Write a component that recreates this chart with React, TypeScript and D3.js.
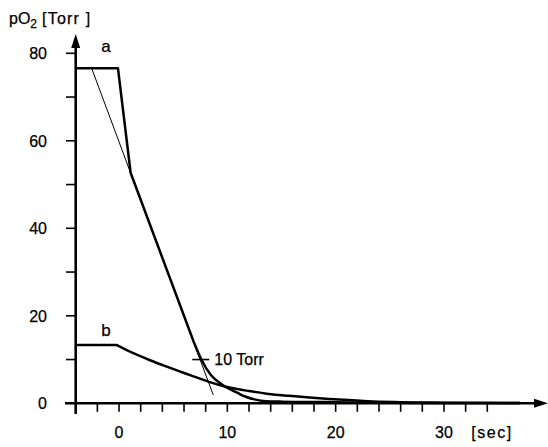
import React from "react";
import * as d3 from "d3";

// Time axis (sec) and pO2 axis (Torr)
const xTicks = d3.range(-2, 35, 2);
const xLabels = [0, 10, 20, 30];
const yTicks = d3.range(0, 81, 10);
const yLabels = [0, 20, 40, 60, 80];

// Curve a: plateau, fast drop, then exponential-like tail
const aStraight: [number, number][] = [
  [-4, 76.6],
  [-0.1, 76.6],
  [1.07, 52.7],
  [6.9, 14.0],
];
const aTail: [number, number][] = [
  [6.9, 14.0],
  [7.6, 10.0],
  [8.5, 6.4],
  [9.5, 4.3],
  [10.2, 3.3],
  [11.0, 2.3],
  [11.7, 1.5],
  [12.5, 0.9],
  [13.3, 0.55],
  [15.0, 0.38],
  [19.0, 0.27],
  [25.0, 0.12],
  [37.0, 0.05],
];

// Curve b: lower plateau and slow decay
const bStraight: [number, number][] = [
  [-4, 13.3],
  [-0.2, 13.3],
  [1.0, 11.8],
];
const bTail: [number, number][] = [
  [1.0, 11.8],
  [2.8, 9.9],
  [4.6, 8.2],
  [6.5, 6.5],
  [8.3, 4.9],
  [9.85, 3.8],
  [12.0, 2.8],
  [13.8, 2.15],
  [15.7, 1.7],
  [17.6, 1.3],
  [19.4, 1.0],
  [21.2, 0.75],
  [23.0, 0.45],
  [26.0, 0.25],
  [30.0, 0.15],
  [37.0, 0.05],
];

// Tangent through the linear part of curve a
const tangent: [number, number][] = [
  [-2.53, 76.6],
  [8.7, 1.9],
];

// 10 Torr marker on curve a
const torrMark = { t: 7.55, value: 10, label: "10 Torr" };

const curveLabels = [
  { text: "a", t: -1.2, value: 80.3 },
  { text: "b", t: -1.2, value: 15.3 },
];

const W = 548;
const H = 447;

export default function App() {
  const x = d3.scaleLinear().domain([-4, 34]).range([75.7, 487.3]);
  const y = d3.scaleLinear().domain([0, 80]).range([403.3, 53.3]);

  const linear = d3
    .line<[number, number]>()
    .x((d) => x(d[0]))
    .y((d) => y(d[1]))
    .curve(d3.curveLinear);
  const smooth = d3
    .line<[number, number]>()
    .x((d) => x(d[0]))
    .y((d) => y(d[1]))
    .curve(d3.curveMonotoneX);

  const axisY0 = y(0);
  const axisX0 = x(-4);
  const font = "'Liberation Sans', Arial, Helvetica, sans-serif";

  return (
    <svg
      width={W}
      height={H}
      viewBox={`0 0 ${W} ${H}`}
      style={{ position: "absolute", left: 0, top: 0, background: "#fff" }}
      fontFamily={font}
    >
      {/* axes */}
      <g stroke="#000" fill="none" strokeLinecap="butt">
        <line x1={axisX0} x2={axisX0} y1={414} y2={44} strokeWidth={2.6} />
        <line x1={65} x2={538} y1={axisY0} y2={axisY0} strokeWidth={2.6} />
        {yTicks.map((v) => (
          <line key={`yt${v}`} x1={66} x2={axisX0} y1={y(v)} y2={y(v)} strokeWidth={1.6} />
        ))}
        {xTicks.map((t) => (
          <line key={`xt${t}`} x1={x(t)} x2={x(t)} y1={axisY0} y2={axisY0 + 8.5} strokeWidth={1.6} />
        ))}
      </g>
      {/* arrow heads */}
      <path
        d={`M${axisX0},34 L${axisX0 - 4.5},48 L${axisX0 + 4.5},48 Z`}
        fill="#000"
      />
      <path
        d={`M548,${axisY0} L534,${axisY0 - 4.5} L534,${axisY0 + 4.5} Z`}
        fill="#000"
      />

      {/* tick labels */}
      <g fontSize={16} fill="#000" stroke="#000" strokeWidth={0.25}>
        {yLabels.map((v) => (
          <text key={`yl${v}`} x={47} y={y(v) + 5.8} textAnchor="end">
            {v}
          </text>
        ))}
        {xLabels.map((t) => (
          <text key={`xl${t}`} x={x(t)} y={438} textAnchor="middle">
            {t}
          </text>
        ))}
        <text x={492} y={438} textAnchor="middle" letterSpacing={1.5}>
          [sec]
        </text>
      </g>

      {/* axis title */}
      <text x={9} y={24} fontSize={16} fill="#000" stroke="#000" strokeWidth={0.25}>
        pO
        <tspan fontSize={12} dy={4}>
          2
        </tspan>
        <tspan dy={-4} dx={5} letterSpacing={1.2}>
          [Torr ]
        </tspan>
      </text>

      {/* tangent */}
      <path d={linear(tangent) ?? ""} stroke="#000" strokeWidth={1} fill="none" />

      {/* curves */}
      <g stroke="#000" strokeWidth={2.5} fill="none" strokeLinejoin="round">
        <path d={linear(aStraight) ?? ""} />
        <path d={smooth(aTail) ?? ""} />
        <path d={linear(bStraight) ?? ""} />
        <path d={smooth(bTail) ?? ""} />
      </g>

      {/* 10 Torr marker */}
      <line
        x1={x(torrMark.t) - 8.5}
        x2={x(torrMark.t) + 8.5}
        y1={y(torrMark.value)}
        y2={y(torrMark.value)}
        stroke="#000"
        strokeWidth={1.6}
      />
      <text
        x={x(torrMark.t) + 13.5}
        y={y(torrMark.value) + 5.8}
        fontSize={16}
        fill="#000"
        stroke="#000"
        strokeWidth={0.25}
      >
        {torrMark.label}
      </text>

      {/* curve labels */}
      {curveLabels.map((l) => (
        <text
          key={l.text}
          x={x(l.t)}
          y={y(l.value)}
          fontSize={17}
          textAnchor="middle"
          fill="#000"
          stroke="#000"
          strokeWidth={0.25}
        >
          {l.text}
        </text>
      ))}
    </svg>
  );
}
